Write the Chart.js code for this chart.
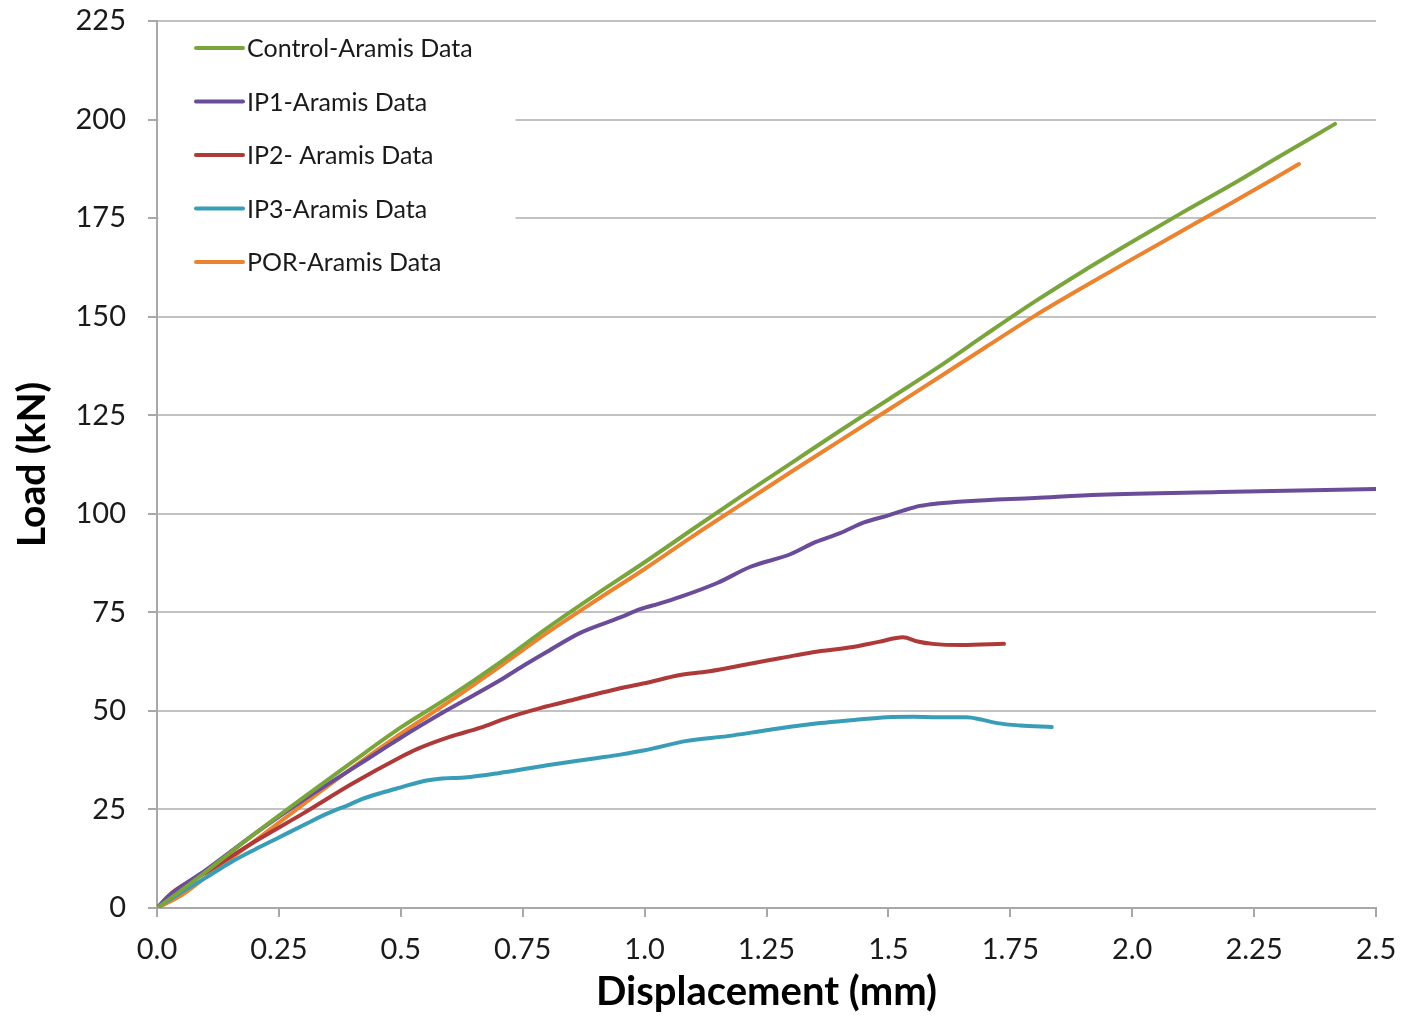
<!DOCTYPE html>
<html>
<head>
<meta charset="utf-8">
<script src="https://cdn.jsdelivr.net/npm/chart.js@4.4.1/dist/chart.umd.min.js"></script>
<style>
html,body{margin:0;padding:0;background:#fff;}
#wrap{width:1401px;height:1018px;position:relative;}
</style>
</head>
<body>
<div id="wrap"><canvas id="c" width="1401" height="1018"></canvas></div>
<script>
// ---- tick labels ----
const xTickLabels = ['0.0','0.25','0.5','0.75','1.0','1.25','1.5','1.75','2.0','2.25','2.5'];
const yTickLabels = ['0','25','50','75','100','125','150','175','200','225'];

// ---- series names ----
const seriesNames = ['Control-Aramis Data','IP1-Aramis Data','IP2- Aramis Data','IP3-Aramis Data','POR-Aramis Data'];

// ---- Control ----
const controlDisp = [0,0.05,0.1,0.2,0.3,0.4,0.5,0.6,0.7,0.8,0.9,1.0,1.1,1.2,1.3,1.4,1.5,1.6,1.7,1.8,1.9,2.0,2.1,2.2,2.3,2.416];
const controlLoad = [0,4.5,9.2,18.8,28,37,45.8,53.6,62,71,79.5,87.7,96.2,104.6,112.8,121,129,137,145.5,153.8,161.6,169,176.2,183.2,190.5,198.9];

// ---- IP1 ----
const ip1Disp = [0,0.03,0.1,0.2,0.3,0.4,0.472,0.5,0.595,0.7,0.744,0.8,0.868,0.95,0.991,1.03,1.073,1.15,1.216,1.3,1.35,1.401,1.45,1.5,1.53,1.565,1.6,1.661,1.8,1.934,2.18,2.5];
const ip1Load = [0,3.6,9.6,18.8,27.4,35.3,41,43.2,50.2,57.5,60.9,65,69.8,73.7,75.8,77.2,78.9,82.5,86.5,89.8,92.8,95.1,97.8,99.6,100.8,102,102.6,103.2,104,104.8,105.5,106.3];

// ---- IP2 ----
const ip2Disp = [0,0.03,0.1,0.2,0.3,0.4,0.5,0.533,0.6,0.662,0.72,0.786,0.86,0.935,1.0,1.073,1.13,1.222,1.28,1.345,1.427,1.48,1.53,1.56,1.591,1.65,1.737];
const ip2Load = [0,3.8,9,16.8,24,31.5,38.3,40.3,43.4,45.7,48.3,50.7,53,55.3,57,59.1,60,62.1,63.4,64.9,66.2,67.5,68.7,67.6,67,66.7,67];

// ---- IP3 ----
const ip3Disp = [0,0.05,0.103,0.15,0.2,0.25,0.3,0.35,0.396,0.42,0.46,0.5,0.55,0.58,0.63,0.7,0.8,0.9,0.95,1.0,1.087,1.17,1.257,1.36,1.43,1.497,1.55,1.6,1.661,1.69,1.723,1.77,1.835];
const ip3Load = [0,4,7.9,11.5,14.8,17.9,21,24,26.3,27.6,29.2,30.6,32.3,32.8,33.1,34.2,36.2,38,38.9,40,42.4,43.6,45.2,46.9,47.7,48.4,48.5,48.4,48.4,47.8,46.9,46.3,45.9];

// ---- POR ----
const porDisp = [0,0.05,0.1,0.2,0.3,0.4,0.5,0.6,0.7,0.8,0.9,1.0,1.1,1.2,1.3,1.4,1.5,1.6,1.7,1.8,1.9,2.0,2.1,2.2,2.342];
const porLoad = [0,3.2,7.8,17,26.3,35.5,44.2,52.4,61,69.8,78,86,94.4,102.5,110.6,118.5,126.4,134.3,142.3,150.2,157.5,164.6,171.6,178.6,188.7];

const seriesColors = ['#7aa53c','#6a4c98','#ad3a38','#3a9db8','#ea8431'];

function pts(xs, ys){ return xs.map((x,i)=>({x:x, y:ys[i]})); }
const allSeries = [
  pts(controlDisp, controlLoad),
  pts(ip1Disp, ip1Load),
  pts(ip2Disp, ip2Load),
  pts(ip3Disp, ip3Load),
  pts(porDisp, porLoad)
];

const FONT = 'Lato, "Open Sans", "Liberation Sans", sans-serif';

const insideLegend = {
  id: 'insideLegend',
  beforeDatasetsDraw(chart, args, o) {
    const ctx = chart.ctx, a = chart.chartArea;
    ctx.save();
    ctx.fillStyle = '#ffffff';
    ctx.fillRect(a.left + 1.5, a.top + 4, o.boxW, o.boxH);
    ctx.font = o.fontSize + 'px ' + FONT;
    ctx.textBaseline = 'middle';
    ctx.textAlign = 'left';
    chart.data.datasets.forEach((ds, i) => {
      const y = a.top + o.firstY + i * o.rowGap;
      ctx.strokeStyle = ds.borderColor;
      ctx.lineWidth = ds.borderWidth;
      ctx.lineCap = 'round';
      ctx.beginPath();
      ctx.moveTo(a.left + o.lineX0, y);
      ctx.lineTo(a.left + o.lineX1, y);
      ctx.stroke();
      ctx.fillStyle = o.color;
      ctx.fillText(ds.label, a.left + o.textX, y + 1);
    });
    ctx.restore();
  }
};

new Chart(document.getElementById('c'), {
  type: 'line',
  data: {
    datasets: allSeries.map((d, i) => ({
      label: seriesNames[i],
      data: d,
      borderColor: seriesColors[i],
      backgroundColor: seriesColors[i],
      borderWidth: 4,
      pointRadius: 0,
      fill: false,
      cubicInterpolationMode: 'monotone',
      borderCapStyle: 'round',
      borderJoinStyle: 'round'
    }))
  },
  options: {
    responsive: false,
    animation: false,
    devicePixelRatio: 1,
    layout: { padding: { top: 21, right: 25, left: 0, bottom: 0 } },
    plugins: {
      legend: { display: false },
      tooltip: { enabled: false },
      insideLegend: { boxW: 357, boxH: 268, firstY: 27, rowGap: 53.5, lineX0: 39, lineX1: 86, textX: 90, fontSize: 25, color: '#1a1a1a' }
    },
    scales: {
      x: {
        type: 'linear',
        min: 0, max: 2.5,
        afterFit(s) { s.height = 110; s.paddingLeft = 0; s.paddingRight = 0; },
        ticks: {
          stepSize: 0.25,
          autoSkip: false,
          maxRotation: 0,
          padding: 15,
          color: '#1a1a1a',
          font: { family: FONT, size: 29 },
          callback: (v) => { const i = Math.round(v / 0.25); return xTickLabels[i] !== undefined ? xTickLabels[i] : ''; }
        },
        grid: { drawOnChartArea: false, drawTicks: true, tickLength: 9, color: '#a8a8a8', lineWidth: 2 },
        border: { display: true, color: '#a8a8a8', width: 2 },
        title: { display: true, text: 'Displacement (mm)', color: '#000', font: { family: FONT, size: 40, weight: 'bold' }, padding: { top: 2, bottom: 2 } }
      },
      y: {
        type: 'linear',
        min: 0, max: 225,
        afterFit(s) { s.width = 157; s.paddingTop = 0; s.paddingBottom = 0; },
        ticks: {
          stepSize: 25,
          autoSkip: false,
          padding: 22,
          color: '#1a1a1a',
          font: { family: FONT, size: 29 },
          callback: (v) => { const i = Math.round(v / 25); return yTickLabels[i] !== undefined ? yTickLabels[i] : ''; }
        },
        grid: { drawOnChartArea: true, drawTicks: true, tickLength: 9, color: '#c2c2c2', lineWidth: 2, tickColor: '#a8a8a8' },
        border: { display: true, color: '#a8a8a8', width: 2 },
        title: { display: true, text: 'Load (kN)', color: '#000', font: { family: FONT, size: 39, weight: 'bold' }, padding: { top: 9, bottom: 9 } }
      }
    }
  },
  plugins: [insideLegend]
});
</script>
</body>
</html>
